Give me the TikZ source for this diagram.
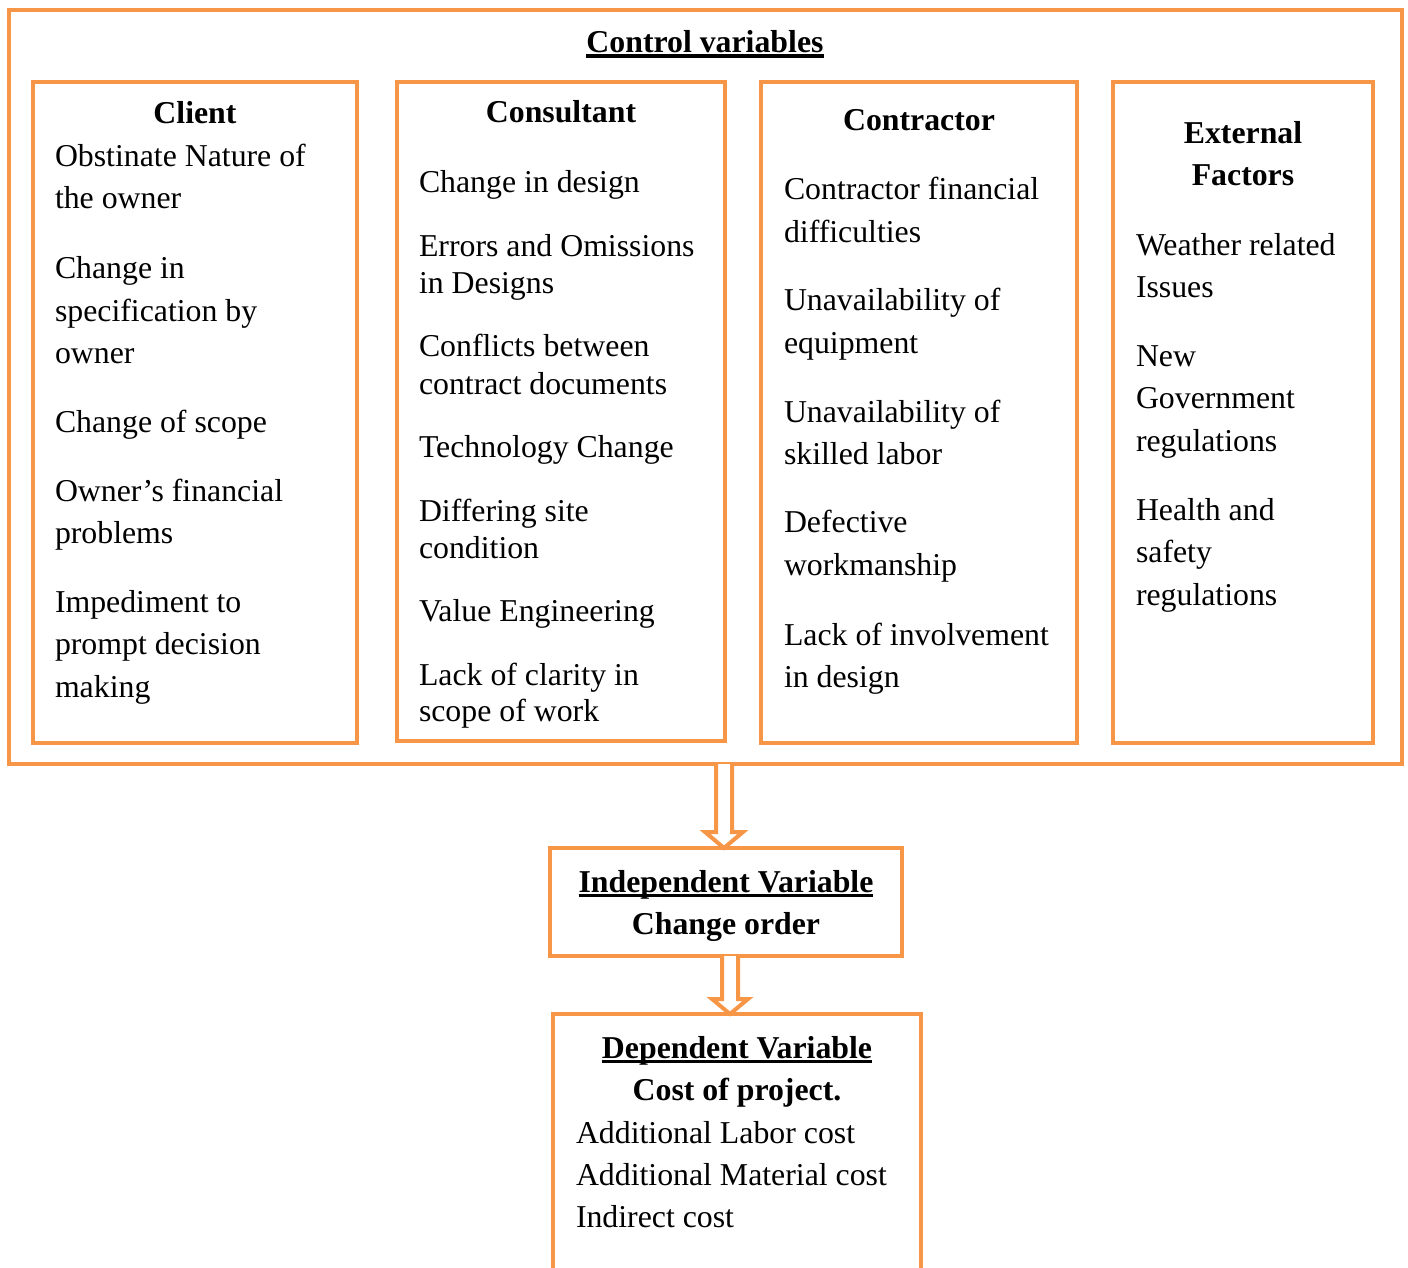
\documentclass[tikz,border=0pt]{standalone}
\usepackage{fontspec}
\setmainfont{Liberation Serif}
\usetikzlibrary{calc}
\definecolor{frameorange}{HTML}{F79646}
% heavy underline sitting just below the baseline
\newcommand\heavyul[1]{\setbox0\hbox{#1}\rlap{\vrule height -1.5pt depth 4.8pt width \wd0}\box0}
\tikzset{
  frame/.style={draw=frameorange, line width=4pt, fill=white, inner sep=0pt, outer sep=0pt, anchor=north west},
  txt/.style={anchor=base west, inner sep=0pt, outer sep=0pt, yshift=-1pt, font=\fontsize{31.8}{42}\selectfont},
  head/.style={anchor=base, inner sep=0pt, outer sep=0pt, yshift=-1pt, font=\fontsize{31.8}{42}\selectfont\bfseries},
  hollowarrow/.style={draw=frameorange, line width=4pt, fill=white, line join=miter}
}
\begin{document}
\begin{tikzpicture}[x=1pt,y=-1pt]
\clip (0,0) rectangle (1408,1268);
\fill[white] (0,0) rectangle (1408,1268);

% outer frame and the four groups of control variables
\node[frame, minimum width=1393pt, minimum height=754pt] (cv) at (9,10) {};
\node[frame, minimum width=324pt, minimum height=661pt] (client) at (33,82) {};
\node[frame, minimum width=328pt, minimum height=659pt] (consult) at (397,82) {};
\node[frame, minimum width=316pt, minimum height=661pt] (contract) at (761,82) {};
\node[frame, minimum width=260pt, minimum height=661pt] (external) at (1113,82) {};

\node[head] (cvtitle) at (705,52) {\heavyul{Control variables}};

% client
\node[head] (clh) at (195,123) {Client};
\node[txt] (cl1) at (55,166) {Obstinate Nature of};
\node[txt] (cl2) at (55,208) {the owner};
\node[txt] (cl3) at (55,277) {Change in};
\node[txt] (cl4) at (55,320) {specification by};
\node[txt] (cl5) at (55,362) {owner};
\node[txt] (cl6) at (55,431) {Change of scope};
\node[txt] (cl7) at (55,500) {Owner’s financial};
\node[txt] (cl8) at (55,542) {problems};
\node[txt] (cl9) at (55,611) {Impediment to};
\node[txt] (cl10) at (55,653) {prompt decision};
\node[txt] (cl11) at (55,696) {making};

% consultant
\node[head] (coh) at (561,122) {Consultant};
\node[txt] (co1) at (419,192) {Change in design};
\node[txt] (co2) at (419,255) {Errors and Omissions};
\node[txt] (co3) at (419,292) {in Designs};
\node[txt] (co4) at (419,355) {Conflicts between};
\node[txt] (co5) at (419,393) {contract documents};
\node[txt] (co6) at (419,456) {Technology Change};
\node[txt] (co7) at (419,520) {Differing site};
\node[txt] (co8) at (419,557) {condition};
\node[txt] (co9) at (419,620) {Value Engineering};
\node[txt] (co10) at (419,684) {Lack of clarity in};
\node[txt] (co11) at (419,720) {scope of work};

% contractor
\node[head] (ctrh) at (919,130) {Contractor};
\node[txt] (ct1) at (784,199) {Contractor financial};
\node[txt] (ct2) at (784,241) {difficulties};
\node[txt] (ct3) at (784,309) {Unavailability of};
\node[txt] (ct4) at (784,352) {equipment};
\node[txt] (ct5) at (784,421) {Unavailability of};
\node[txt] (ct6) at (784,463) {skilled labor};
\node[txt] (ct7) at (784,531) {Defective};
\node[txt] (ct8) at (784,574) {workmanship};
\node[txt] (ct9) at (784,644) {Lack of involvement};
\node[txt] (ct10) at (784,686) {in design};

% external factors
\node[head] (exh1) at (1243,143) {External};
\node[head] (exh2) at (1243,185) {Factors};
\node[txt] (ex1) at (1136,254) {Weather related};
\node[txt] (ex2) at (1136,296) {Issues};
\node[txt] (ex3) at (1136,365) {New};
\node[txt] (ex4) at (1136,407) {Government};
\node[txt] (ex5) at (1136,450) {regulations};
\node[txt] (ex6) at (1136,519) {Health and};
\node[txt] (ex7) at (1136,561) {safety};
\node[txt] (ex8) at (1136,604) {regulations};

% independent variable
\node[frame, minimum width=352pt, minimum height=108pt] (iv) at (550,848) {};
\node[head] (ivh) at (726,891) {\heavyul{Independent Variable}};
\node[head] (ivt) at (726,933) {Change order};

% dependent variable (runs past the lower edge)
\node[frame, minimum width=368pt, minimum height=300pt] (dv) at (553,1014) {};
\node[head] (dvh) at (737,1057) {\heavyul{Dependent Variable}};
\node[head] (dvt) at (737,1099) {Cost of project.};
\node[txt] (dv1) at (576,1142) {Additional Labor cost};
\node[txt] (dv2) at (576,1184) {Additional Material cost};
\node[txt] (dv3) at (576,1226) {Indirect cost};

% hollow block arrows between the frames
\coordinate (ax1) at (724,0);
\coordinate (ax2) at (730,0);
\draw[hollowarrow]
  ($(ax1 |- cv.south)+(-8,0)$) -- ($(ax1 |- iv.north)+(-8,-16)$) -- ($(ax1 |- iv.north)+(-19,-16)$)
  -- (ax1 |- iv.north) -- ($(ax1 |- iv.north)+(19,-16)$) -- ($(ax1 |- iv.north)+(8,-16)$)
  -- ($(ax1 |- cv.south)+(8,0)$);
\draw[hollowarrow]
  ($(ax2 |- iv.south)+(-8,0)$) -- ($(ax2 |- dv.north)+(-8,-15)$) -- ($(ax2 |- dv.north)+(-18,-15)$)
  -- (ax2 |- dv.north) -- ($(ax2 |- dv.north)+(18,-15)$) -- ($(ax2 |- dv.north)+(8,-15)$)
  -- ($(ax2 |- iv.south)+(8,0)$);
\end{tikzpicture}
\end{document}
